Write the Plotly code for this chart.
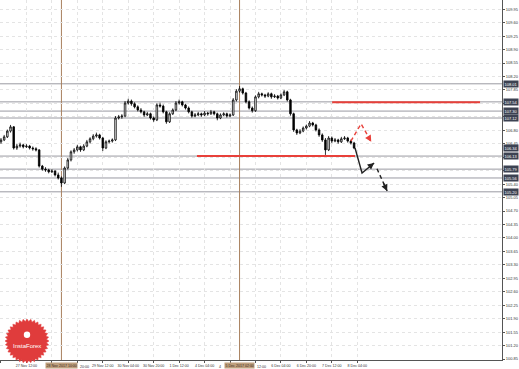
import plotly.graph_objects as go
import math

# ---- data (2-hour bars, bar index 0..111) ----
opens = [106.50,106.55,106.63,106.78,106.89,106.34,106.39,106.42,106.37,106.39,
         106.34,106.32,106.29,105.87,105.79,105.77,105.72,105.74,105.64,105.56,
         105.43,105.82,106.03,106.24,106.29,106.37,106.29,106.39,106.50,106.58,
         106.65,106.68,106.60,106.34,106.50,106.52,106.55,107.12,107.15,107.17,
         107.51,107.56,107.49,107.41,107.33,107.28,107.20,107.23,107.12,107.07,
         107.46,107.43,107.28,107.02,107.23,107.33,107.51,107.54,107.46,107.38,
         107.28,107.17,107.20,107.23,107.20,107.25,107.23,107.28,107.23,107.12,
         107.20,107.23,107.17,107.20,107.59,107.82,107.88,107.77,107.54,107.38,
         107.31,107.67,107.75,107.72,107.69,107.75,107.67,107.69,107.64,107.72,
         107.80,107.59,107.23,106.81,106.73,106.78,106.86,106.91,106.99,106.94,
         106.81,106.68,106.55,106.29,106.60,106.52,106.55,106.50,106.58,106.60,
         106.52,106.47]
highs = [106.60,106.68,106.82,106.94,106.91,106.45,106.48,106.45,106.44,106.42,
         106.38,106.36,106.31,105.90,105.84,105.80,105.79,105.76,105.70,105.60,
         105.86,106.08,106.28,106.34,106.42,106.40,106.44,106.55,106.62,106.70,
         106.74,106.71,106.63,106.54,106.56,106.59,107.17,107.20,107.22,107.56,
         107.62,107.60,107.53,107.45,107.38,107.31,107.28,107.26,107.16,107.50,
         107.52,107.47,107.31,107.27,107.37,107.56,107.60,107.57,107.49,107.42,
         107.31,107.25,107.28,107.26,107.30,107.28,107.33,107.31,107.26,107.24,
         107.27,107.26,107.24,107.64,107.87,107.95,107.91,107.80,107.58,107.42,
         107.71,107.80,107.78,107.75,107.79,107.78,107.74,107.72,107.76,107.85,
         107.83,107.62,107.26,106.84,106.83,106.90,106.95,107.04,107.02,106.97,
         106.85,106.72,106.60,106.65,106.64,106.60,106.58,106.63,106.65,106.63,
         106.56,106.50]
lows = [106.45,106.52,106.60,106.74,106.30,106.29,106.35,106.33,106.34,106.30,
        106.27,106.25,105.83,105.75,105.72,105.68,105.69,105.60,105.52,105.33,
        105.40,105.78,105.99,106.19,106.25,106.24,106.26,106.36,106.46,106.54,
        106.61,106.56,106.26,106.31,106.46,106.48,106.52,107.08,107.10,107.14,
        107.47,107.44,107.37,107.29,107.24,107.15,107.17,107.08,107.02,107.04,
        107.39,107.24,106.97,106.99,107.20,107.30,107.47,107.42,107.34,107.24,
        107.13,107.14,107.17,107.15,107.17,107.18,107.20,107.19,107.06,107.09,
        107.17,107.13,107.14,107.17,107.55,107.78,107.73,107.50,107.34,107.26,
        107.28,107.63,107.68,107.64,107.66,107.62,107.64,107.60,107.61,107.69,
        107.55,107.18,106.76,106.68,106.70,106.75,106.82,106.88,106.90,106.77,
        106.63,106.50,106.16,106.26,106.47,106.49,106.45,106.47,106.55,106.48,
        106.43,106.31]
closes = [106.55,106.63,106.78,106.89,106.34,106.39,106.42,106.37,106.39,106.34,
          106.32,106.29,105.87,105.79,105.77,105.72,105.74,105.64,105.56,105.43,
          105.82,106.03,106.24,106.29,106.37,106.29,106.39,106.50,106.58,106.65,
          106.68,106.60,106.34,106.50,106.52,106.55,107.12,107.15,107.17,107.51,
          107.56,107.49,107.41,107.33,107.28,107.20,107.23,107.12,107.07,107.46,
          107.43,107.28,107.02,107.23,107.33,107.51,107.54,107.46,107.38,107.28,
          107.17,107.20,107.23,107.20,107.25,107.23,107.28,107.23,107.12,107.20,
          107.23,107.17,107.20,107.59,107.82,107.88,107.77,107.54,107.38,107.31,
          107.67,107.75,107.72,107.69,107.75,107.67,107.69,107.64,107.72,107.80,
          107.59,107.23,106.81,106.73,106.78,106.86,106.91,106.99,106.94,106.81,
          106.68,106.55,106.29,106.60,106.52,106.55,106.50,106.58,106.60,106.52,
          106.47,106.34]

tick_bars = [0, 8, 16, 24, 32, 40, 48, 56, 64, 72, 80, 88, 96, 104, 112]
tick_text = ["26 Nov 20:00", "27 Nov 12:00", "28 Nov 04:00", "28 Nov 20:00",
             "29 Nov 12:00", "30 Nov 04:00", "30 Nov 20:00", "1 Dec 12:00",
             "4 Dec 04:00", "4 Dec 20:00", "5 Dec 12:00", "6 Dec 04:00",
             "6 Dec 20:00", "7 Dec 12:00", "8 Dec 04:00"]
# tick labels partly hidden behind the vertical-line date boxes: visible parts
partial_labels = [(26.1, "20:00"), (68.9, "4"), (81.9, "12:00")]
hidden_ticks = [16, 24, 72, 80]
price_ticks = [round(100.85 + 0.35 * k, 2) for k in range(27)]

level_prices = [108.01, 107.54, 107.30, 107.12, 106.13, 105.79, 105.56, 105.20]
current_price = 106.34
vline_bars = [19, 75]
vline_labels = ["28 Nov 2017 10:00", "5 Dec 2017 02:00"]

red_levels = [(104.1, 150.6, 107.53), (61.6, 111.3, 106.13)]
red_proj_x = [110.0, 113.2, 116.4]
red_proj_y = [106.52, 106.97, 106.50]
black_proj_x = [111.3, 113.5, 117.3]
black_proj_y = [106.34, 105.69, 105.95]
black_proj2_x = [118.2, 121.4]
black_proj2_y = [105.80, 105.22]

X_RANGE = [-0.31, 157.5]
Y_RANGE = [100.825, 110.19]

FONT = "Liberation Sans"
box_prices = level_prices + [current_price]
price_ticktext = ["" if any(abs(v - b) < 0.075 for b in box_prices) else f"{v:.2f}"
                  for v in price_ticks]
x_ticktext = ["" if b in hidden_ticks else t for b, t in zip(tick_bars, tick_text)]

fig = go.Figure()
fig.add_trace(go.Candlestick(
    x=list(range(len(closes))), open=opens, high=highs, low=lows, close=closes,
    increasing=dict(line=dict(color="black", width=0.8), fillcolor="white"),
    decreasing=dict(line=dict(color="black", width=0.8), fillcolor="black"),
    whiskerwidth=0, showlegend=False, hoverinfo="skip"))

fig.add_trace(go.Scatter(x=red_proj_x, y=red_proj_y, mode="lines",
                         line=dict(color="#e8403a", width=1.4, dash="4px,3px"),
                         showlegend=False, hoverinfo="skip"))
fig.add_trace(go.Scatter(x=black_proj_x, y=black_proj_y, mode="lines",
                         line=dict(color="#222", width=1.4),
                         showlegend=False, hoverinfo="skip"))
fig.add_trace(go.Scatter(x=black_proj2_x, y=black_proj2_y, mode="lines",
                         line=dict(color="#222", width=1.4, dash="4px,3px"),
                         showlegend=False, hoverinfo="skip"))

shapes = []
for p in level_prices:
    shapes.append(dict(type="line", xref="paper", x0=0, x1=1, yref="y", y0=p, y1=p,
                       line=dict(color="#9a9aa2", width=1), layer="between"))
for b in vline_bars:
    shapes.append(dict(type="line", xref="x", x0=b, x1=b, yref="paper", y0=0, y1=1,
                       line=dict(color="#a8805e", width=1), layer="between"))
for x0, x1, p in red_levels:
    shapes.append(dict(type="line", xref="x", x0=x0, x1=x1, yref="y", y0=p, y1=p,
                       line=dict(color="#e8403a", width=2), layer="above"))

# InstaForex seal (decoration) in paper coords
W, H = 502.0, 360.0
cx, cy, r1, r2 = 27.0, 341.0, 22.0, 19.5
pts = []
n = 36
for k in range(2 * n):
    a = math.pi * k / n
    rr = r1 if k % 2 == 0 else r2
    pts.append(((cx + rr * math.cos(a)) / W, 1 - (cy + rr * math.sin(a)) / H))
path = "M " + " L ".join(f"{x:.5f},{y:.5f}" for x, y in pts) + " Z"
shapes.append(dict(type="path", xref="paper", yref="paper", path=path,
                   fillcolor="#e03c3c", line=dict(color="#e03c3c", width=0.5), layer="above"))
shapes.append(dict(type="circle", xref="paper", yref="paper",
                   x0=(cx - 3.2) / W, x1=(cx + 3.2) / W, y0=1 - (cy - 3.0) / H, y1=1 - (cy - 9.5) / H,
                   fillcolor="white", line=dict(color="white", width=0), layer="above"))

annotations = []
for p in box_prices:
    annotations.append(dict(x=1, xref="paper", y=p, yref="y", xanchor="left", yanchor="middle",
                            xshift=1, text=f"{p:.2f}", showarrow=False,
                            font=dict(size=4.0, color="white", family=FONT),
                            bgcolor="#3c4252", borderpad=0.5))
for b, t in zip(vline_bars, vline_labels):
    annotations.append(dict(x=b, xref="x", y=0, yref="paper", yanchor="top", xanchor="center",
                            yshift=-1.5, text=t, showarrow=False,
                            font=dict(size=3.6, color="#3a2a1a", family=FONT),
                            bgcolor="#bfa07e", borderpad=0.5))
for bx, t in partial_labels:
    annotations.append(dict(x=bx, xref="x", y=0, yref="paper", yanchor="top", xanchor="center",
                            yshift=-2.5, text=t, showarrow=False,
                            font=dict(size=3.6, color="#333", family=FONT)))
annotations.append(dict(x=cx / W, xref="paper", y=1 - 345.5 / H, yref="paper", text="InstaForex",
                        xanchor="center", yanchor="middle",
                        showarrow=False, font=dict(size=6, color="white", family=FONT)))
annotations.append(dict(x=red_proj_x[-1], y=red_proj_y[-1], ax=red_proj_x[-2] + 2.2,
                        ay=red_proj_y[-2] - 0.33, xref="x", yref="y", axref="x", ayref="y",
                        showarrow=True, arrowhead=2, arrowsize=1, arrowwidth=1.3,
                        arrowcolor="#e8403a", text=""))
annotations.append(dict(x=black_proj_x[-1], y=black_proj_y[-1], ax=black_proj_x[-2] + 2.0,
                        ay=black_proj_y[-2] + 0.14, xref="x", yref="y", axref="x", ayref="y",
                        showarrow=True, arrowhead=2, arrowsize=1, arrowwidth=1.3,
                        arrowcolor="#222", text=""))
annotations.append(dict(x=black_proj2_x[-1], y=black_proj2_y[-1], ax=black_proj2_x[-2] + 1.8,
                        ay=black_proj2_y[-2] - 0.33, xref="x", yref="y", axref="x", ayref="y",
                        showarrow=True, arrowhead=2, arrowsize=1, arrowwidth=1.3,
                        arrowcolor="#222", text=""))

fig.update_layout(
    width=519, height=369,
    margin=dict(l=0, r=17, t=0, b=9, autoexpand=False),
    paper_bgcolor="white", plot_bgcolor="white",
    shapes=shapes, annotations=annotations,
    xaxis=dict(range=X_RANGE, tickvals=tick_bars, ticktext=x_ticktext, tickangle=0,
               automargin=False,
               tickfont=dict(size=3.6, color="#333", family=FONT),
               showgrid=True, gridcolor="#e4e4e4", griddash="dot", gridwidth=1,
               showline=True, linecolor="#555", linewidth=1, ticks="outside", ticklen=2,
               tickcolor="#555", rangeslider=dict(visible=False), zeroline=False,
               fixedrange=True),
    yaxis=dict(range=Y_RANGE, side="right", tickvals=price_ticks,
               ticktext=price_ticktext, automargin=False,
               tickfont=dict(size=4.0, color="#333", family=FONT),
               showgrid=True, gridcolor="#e4e4e4", griddash="dot", gridwidth=1,
               showline=True, linecolor="#555", linewidth=1, ticks="outside", ticklen=2,
               tickcolor="#555", zeroline=False, fixedrange=True),
)

fig.write_html("out.html")
